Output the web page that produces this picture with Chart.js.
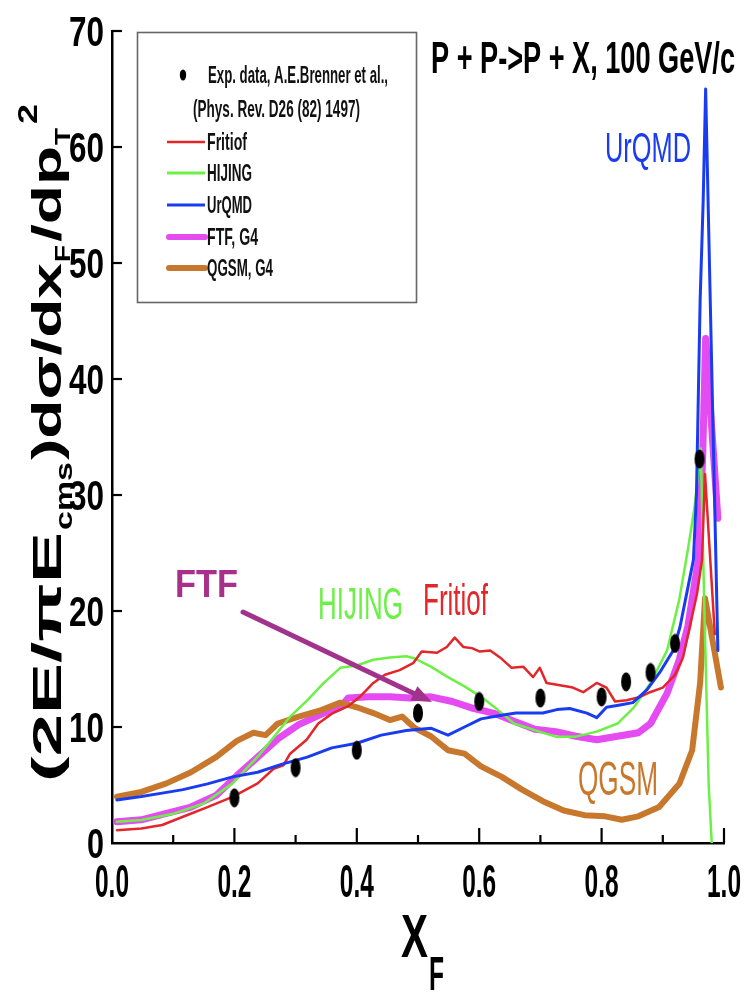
<!DOCTYPE html>
<html><head><meta charset="utf-8">
<script src="https://cdn.jsdelivr.net/npm/chart.js@4.4.0/dist/chart.umd.min.js"></script>
<style>html,body{margin:0;padding:0;background:#fff;overflow:hidden}</style>
</head><body>
<canvas id="c" width="749" height="994"></canvas>
<script>
// ---------- data ----------
const xTickValues = [0, 0.2, 0.4, 0.6, 0.8, 1.0];
const xTickLabels = ["0.0", "0.2", "0.4", "0.6", "0.8", "1.0"];
const yTickValues = [0, 10, 20, 30, 40, 50, 60, 70];
const yTickLabels = ["0", "10", "20", "30", "40", "50", "60", "70"];

const expX = [0.2, 0.3, 0.4, 0.5, 0.6, 0.7, 0.8, 0.84, 0.88, 0.92, 0.96];
const expY = [3.9, 6.5, 8.0, 11.2, 12.2, 12.5, 12.6, 13.9, 14.7, 17.2, 33.1];

const fritiofX = [0.008,0.048,0.082,0.116,0.156,0.197,0.238,0.264,0.28,0.291,0.318,0.337,0.361,0.386,0.405,0.427,0.446,0.47,0.492,0.506,0.531,0.547,0.56,0.574,0.588,0.601,0.618,0.634,0.653,0.672,0.688,0.699,0.71,0.732,0.753,0.77,0.792,0.808,0.822,0.841,0.863,0.879,0.9,0.92,0.933,0.944,0.956,0.964,0.969,0.985];
const fritiofY = [1.1,1.25,1.55,2.26,3.1,3.98,5.14,6.4,6.7,7.7,8.9,10.3,11.2,11.8,12.6,13.8,14.5,14.9,15.5,16.5,16.4,16.9,17.7,16.9,16.8,16.5,16.6,16.0,15.1,15.2,14.3,15.1,13.8,13.6,13.4,13.0,13.8,13.4,12.2,12.3,12.6,13.0,13.4,14.5,16.0,18.6,21.5,24.4,31.8,18];

const hijingX = [0.008,0.048,0.102,0.150,0.197,0.238,0.265,0.291,0.319,0.346,0.373,0.40,0.427,0.454,0.481,0.495,0.521,0.549,0.576,0.603,0.63,0.657,0.698,0.725,0.758,0.792,0.826,0.853,0.88,0.907,0.927,0.941,0.952,0.962,0.968,0.975,0.98];
const hijingY = [1.84,1.98,2.55,3.4,5.14,7.44,9.17,10.9,12.3,13.8,15.1,15.3,15.8,16.0,16.1,15.9,15.2,14.3,13.5,12.6,11.5,10.3,9.6,9.17,9.17,9.6,10.3,11.7,13.8,16.6,21,25.3,29,34,20,5,0];

const urqmdX = [0.008,0.048,0.082,0.116,0.156,0.197,0.238,0.278,0.319,0.359,0.40,0.44,0.481,0.521,0.549,0.576,0.603,0.634,0.66,0.704,0.727,0.748,0.776,0.792,0.808,0.83,0.851,0.874,0.895,0.917,0.928,0.939,0.95,0.955,0.961,0.966,0.970,0.99];
const urqmdY = [3.7,4.0,4.3,4.6,5.1,5.7,6.1,6.8,7.4,8.2,8.6,9.3,9.7,9.9,9.3,10.0,10.7,11.0,11.2,11.2,11.5,11.6,11.2,10.8,11.7,11.9,12.1,13.2,14.7,16.6,18.6,21.5,24.4,30,46.8,55.4,65,16.6];

const ftfX = [0.008,0.048,0.089,0.129,0.170,0.204,0.238,0.271,0.305,0.346,0.373,0.386,0.42,0.454,0.488,0.521,0.556,0.59,0.623,0.657,0.691,0.725,0.758,0.792,0.826,0.86,0.88,0.907,0.927,0.941,0.958,0.965,0.970,0.99];
const ftfY = [1.84,2.0,2.55,3.1,4.1,5.8,7.4,8.98,10.2,11.2,11.7,12.5,12.6,12.6,12.5,12.6,12.2,11.6,11.2,10.5,9.8,9.6,9.2,8.9,9.2,9.5,10.3,12.9,15.8,18.7,24.4,33,43.5,28];

const qgsmX = [0.008,0.048,0.089,0.129,0.170,0.204,0.231,0.251,0.271,0.305,0.339,0.373,0.40,0.427,0.454,0.474,0.495,0.521,0.549,0.576,0.603,0.637,0.67,0.704,0.738,0.772,0.806,0.833,0.86,0.894,0.927,0.948,0.961,0.969,0.995];
const qgsmY = [4.0,4.4,5.14,6.1,7.4,8.8,9.5,9.3,10.3,10.9,11.4,12.1,11.7,11.2,10.6,10.9,9.9,9.2,8.0,7.7,6.6,5.7,4.6,3.6,2.8,2.4,2.3,2.0,2.3,3.1,5.1,8.0,13.8,21.1,13.4];

// ---------- helpers ----------
const pts = (xs, ys) => xs.map((x, i) => ({x: x, y: ys[i]}));
const FONT = '"Liberation Sans", Arial, sans-serif';
function txt(ctx, s, x, y, size, weight, color, w, align) {
  ctx.save();
  ctx.font = weight + ' ' + size + 'px ' + FONT;
  const m = ctx.measureText(s).width;
  const sx = w ? w / m : 1;
  let x0 = x;
  if (align === 'center') x0 = x - m * sx / 2;
  else if (align === 'right') x0 = x - m * sx;
  ctx.translate(x0, y);
  ctx.scale(sx, 1);
  ctx.fillStyle = color;
  ctx.textAlign = 'left';
  ctx.textBaseline = 'alphabetic';
  ctx.fillText(s, 0, 0);
  ctx.restore();
}

const dot = document.createElement('canvas');
dot.width = 12; dot.height = 20;
(function(){ const g = dot.getContext('2d'); g.fillStyle = '#000'; g.beginPath(); g.ellipse(6, 10, 5.0, 9.5, 0, 0, Math.PI*2); g.fill(); })();

const C = {red:'#e3262a', green:'#6cf046', blue:'#1a3cf0', mag:'#e44cf2', org:'#c8782c', ftfText:'#a8308a'};

const decor = {
  id: 'decor',
  afterDraw(chart) {
    const ctx = chart.ctx, xs = chart.scales.x, ys = chart.scales.y;
    const ca = chart.chartArea;
    ctx.save();
    ctx.strokeStyle = '#000'; ctx.lineWidth = 2.2; ctx.lineCap = 'butt';
    for (let i = 1; i <= 10; i++) {
      const px = xs.getPixelForValue(i / 10);
      const len = (i % 2 === 0) ? 15 : 8;
      ctx.beginPath(); ctx.moveTo(px, ca.bottom); ctx.lineTo(px, ca.bottom - len); ctx.stroke();
    }
    yTickValues.forEach(v => {
      if (v === 0) return;
      const py = ys.getPixelForValue(v);
      ctx.beginPath(); ctx.moveTo(ca.left, py); ctx.lineTo(ca.left + 10, py); ctx.stroke();
    });
    ctx.restore();
    // tick labels
    xTickValues.forEach((v, i) => {
      const px = xs.getPixelForValue(v);
      txt(ctx, xTickLabels[i], px, 897, 47, 'bold', '#000', 34, 'center');
    });
    yTickValues.forEach((v, i) => {
      const py = ys.getPixelForValue(v);
      const w = yTickLabels[i].length === 1 ? 17 : 35;
      txt(ctx, yTickLabels[i], 104, py + 15, 42, 'bold', '#000', w, 'right');
    });
    // x axis title X_F
    txt(ctx, 'X', 401, 957, 62, 'bold', '#000', 27, 'left');
    txt(ctx, 'F', 429, 990, 48, 'bold', '#000', 15, 'left');
    // y axis title (rotated)
    ctx.save();
    ctx.translate(61, 0);
    ctx.rotate(-Math.PI / 2);
    const piece = (s, y0, y1, off, size) => txt(ctx, s, -y0, off, size, 'bold', '#000', y0 - y1, 'left');
    piece('(2E/\u03C0E', 782, 532, 0, 40);
    piece('cms', 530, 462, 11, 24);
    piece(')d\u03C3/dx', 460, 263, 0, 40);
    piece('F', 262, 245, 9, 22);
    piece('/dp', 242, 146, 0, 40);
    piece('T', 145, 128, 9, 22);
    piece('2', 124, 104, -24, 28);
    ctx.restore();
    // title
    txt(ctx, 'P + P->P + X, 100 GeV/c', 431, 73, 44, 'bold', '#000', 304, 'left');
    // legend box
    ctx.save();
    ctx.strokeStyle = '#666'; ctx.lineWidth = 1.6;
    ctx.strokeRect(137.5, 32.5, 279, 270);
    ctx.fillStyle = '#000';
    ctx.beginPath(); ctx.ellipse(183, 75, 3.2, 5.5, 0, 0, Math.PI * 2); ctx.fill();
    ctx.restore();
    txt(ctx, 'Exp. data, A.E.Brenner et al.,', 208, 83, 23, 'bold', '#111', 180, 'left');
    txt(ctx, '(Phys. Rev. D26 (82) 1497)', 193, 117, 23, 'bold', '#111', 167, 'left');
    const leg = [
      ['Fritiof', C.red, 2.5, 142, 40],
      ['HIJING', C.green, 3, 173, 45],
      ['UrQMD', C.blue, 3, 205, 45],
      ['FTF, G4', C.mag, 6, 237, 51],
      ['QGSM, G4', C.org, 6, 268, 66]
    ];
    leg.forEach(l => {
      ctx.save();
      ctx.strokeStyle = l[1]; ctx.lineWidth = l[2]; ctx.lineCap = l[2] > 4 ? 'round' : 'butt';
      ctx.beginPath(); ctx.moveTo(l[2] > 4 ? 169 : 167, l[3]); ctx.lineTo(205, l[3]); ctx.stroke();
      ctx.restore();
      txt(ctx, l[0], 207, l[3] + 8, 23, 'bold', '#111', l[4], 'left');
    });
    // curve annotations
    txt(ctx, 'UrQMD', 605, 162, 43, 'normal', C.blue, 86, 'left');
    txt(ctx, 'FTF', 175, 597, 38, 'bold', C.ftfText, 63, 'left');
    txt(ctx, 'HIJING', 318, 619, 44, 'normal', C.green, 85, 'left');
    txt(ctx, 'Fritiof', 423, 615, 44, 'normal', C.red, 65, 'left');
    txt(ctx, 'QGSM', 578, 795, 48, 'normal', C.org, 80, 'left');
    // arrow
    ctx.save();
    const ax0 = 243, ay0 = 612, ax1 = 432, ay1 = 702;
    const ang = Math.atan2(ay1 - ay0, ax1 - ax0);
    ctx.strokeStyle = '#a2338c'; ctx.fillStyle = '#a2338c'; ctx.lineWidth = 5; ctx.lineCap = 'round';
    const hl = 20;
    ctx.beginPath(); ctx.moveTo(ax0, ay0);
    ctx.lineTo(ax1 - hl * Math.cos(ang), ay1 - hl * Math.sin(ang)); ctx.stroke();
    ctx.beginPath();
    ctx.moveTo(ax1, ay1);
    ctx.lineTo(ax1 - hl * Math.cos(ang) + 8 * Math.sin(ang), ay1 - hl * Math.sin(ang) - 8 * Math.cos(ang));
    ctx.lineTo(ax1 - hl * Math.cos(ang) - 8 * Math.sin(ang), ay1 - hl * Math.sin(ang) + 8 * Math.cos(ang));
    ctx.closePath(); ctx.fill();
    ctx.restore();
  }
};

const lineDs = (label, xs, ys, color, w, order) => ({
  label: label, data: pts(xs, ys), borderColor: color, backgroundColor: color,
  borderWidth: w, pointRadius: 0, showLine: true, tension: 0, fill: false,
  borderCapStyle: 'round', borderJoinStyle: 'round', order: order
});

new Chart(document.getElementById('c'), {
  type: 'scatter',
  data: {
    datasets: [
      {label: 'Exp. data', data: pts(expX, expY), pointStyle: dot, pointRadius: 6, showLine: false, order: 0},
      lineDs('UrQMD', urqmdX, urqmdY, C.blue, 3, 1),
      lineDs('Fritiof', fritiofX, fritiofY, C.red, 2.5, 2),
      lineDs('HIJING', hijingX, hijingY, C.green, 2.5, 3),
      lineDs('QGSM, G4', qgsmX, qgsmY, C.org, 6, 4),
      lineDs('FTF, G4', ftfX, ftfY, C.mag, 7, 5)
    ]
  },
  options: {
    responsive: false, animation: false, devicePixelRatio: 1,
    layout: {padding: {top: 31, right: 25, left: 0, bottom: 0}},
    plugins: {legend: {display: false}, tooltip: {enabled: false}},
    scales: {
      x: {type: 'linear', min: 0, max: 1, ticks: {display: false, stepSize: 0.1},
          grid: {display: false}, border: {display: true, color: '#000', width: 2.5},
          afterFit: s => { s.height = 151; }},
      y: {type: 'linear', min: 0, max: 70, ticks: {display: false, stepSize: 10},
          grid: {display: false}, border: {display: true, color: '#000', width: 2.5},
          afterFit: s => { s.width = 112; }}
    }
  },
  plugins: [decor]
});
</script>
</body></html>
